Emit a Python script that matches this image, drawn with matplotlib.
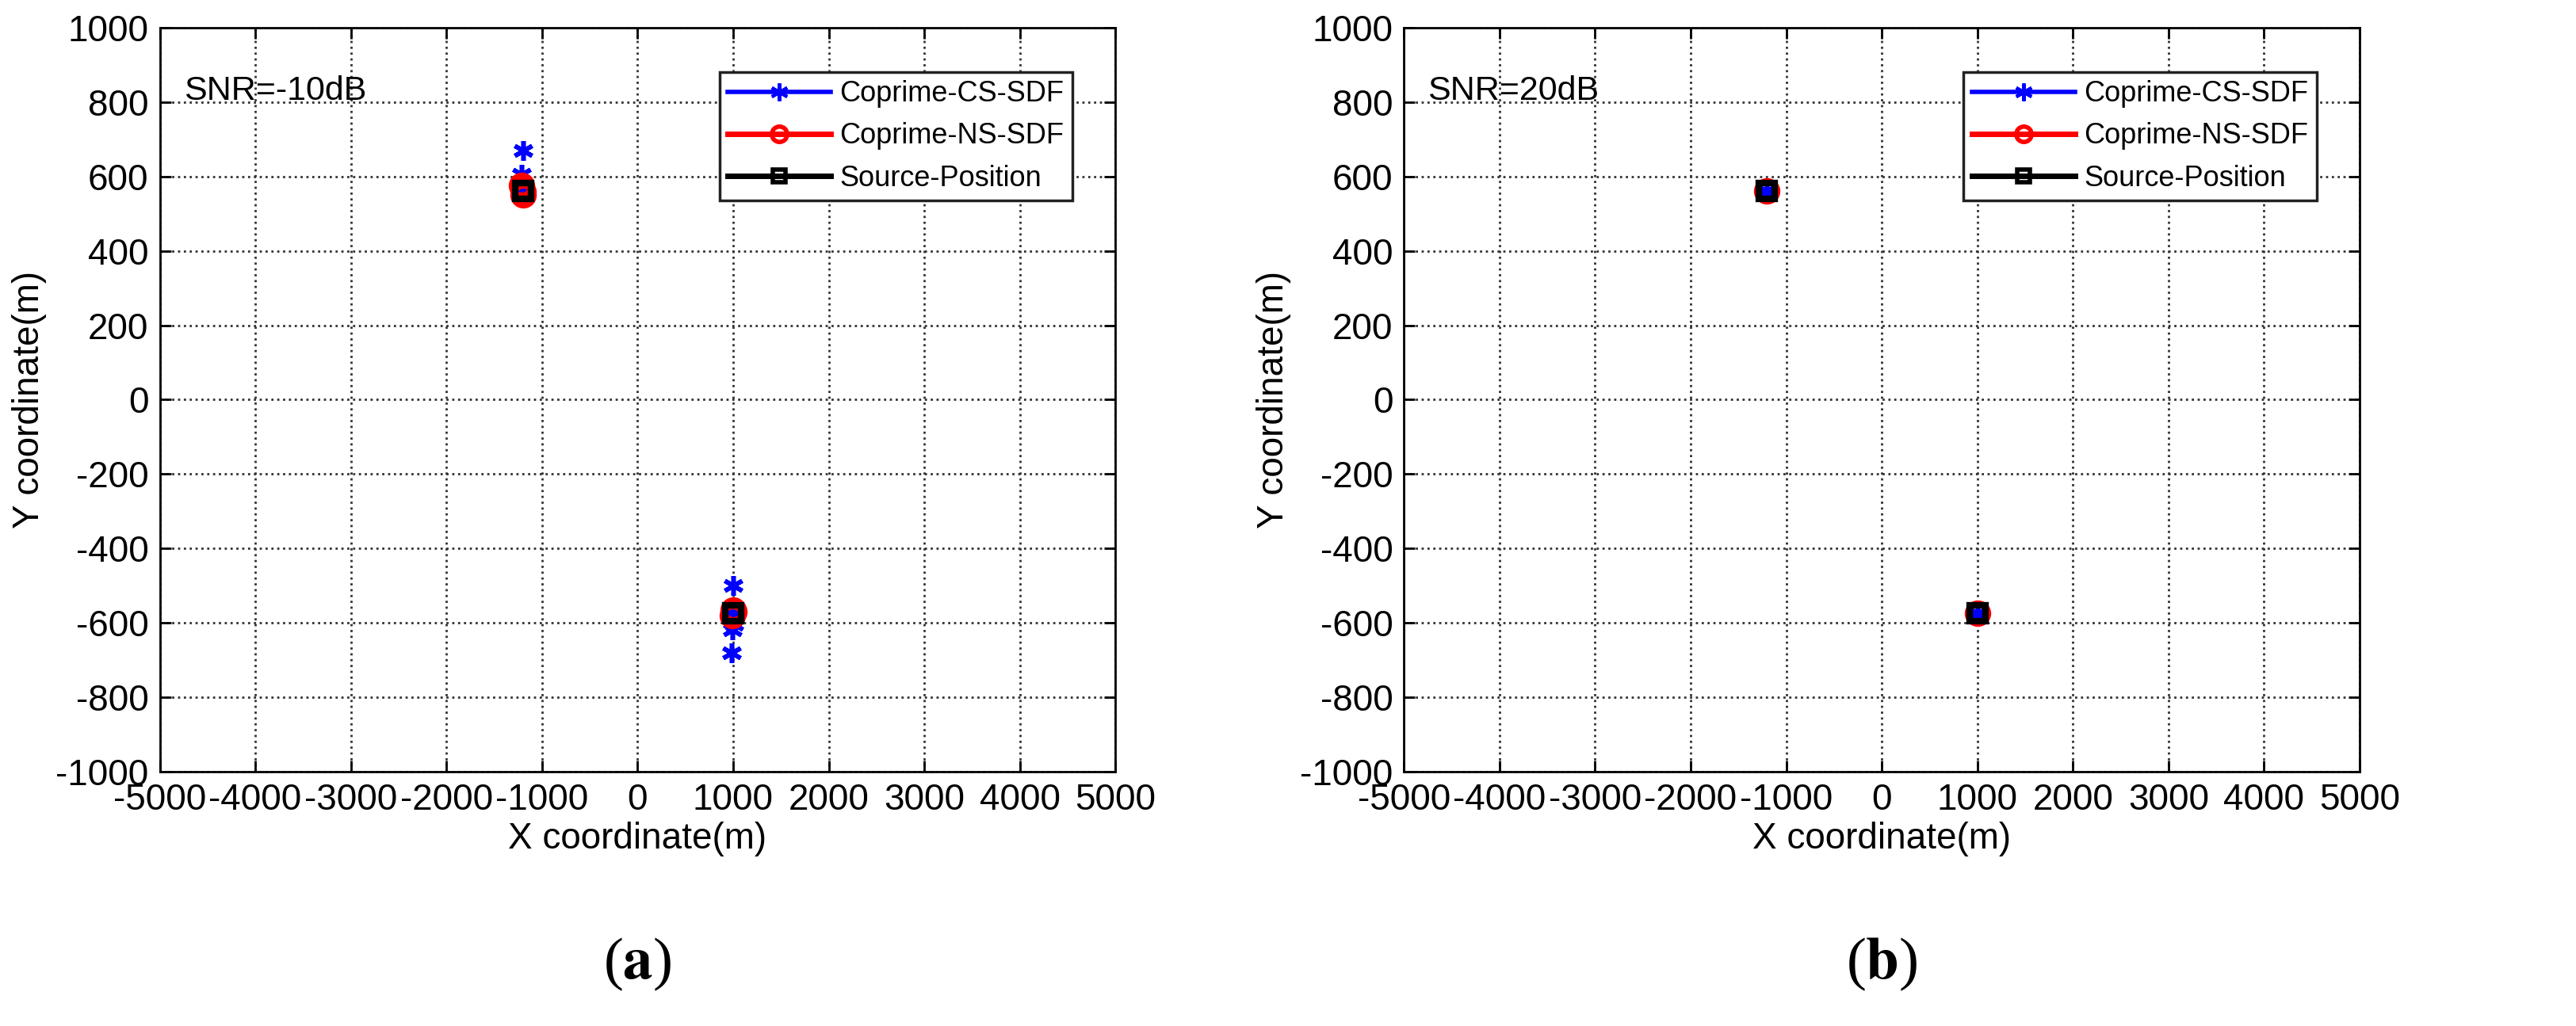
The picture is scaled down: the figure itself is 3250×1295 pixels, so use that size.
import matplotlib.pyplot as plt

plt.rcParams["font.family"] = ["Liberation Sans", "DejaVu Sans"]
plt.rcParams["axes.unicode_minus"] = False
plt.rcParams["mathtext.fontset"] = "stix"

# panel (a): SNR=-10dB
cs_x_a = [-1200, -1210, -1205, -1195, 1000, 990, 1005, 980, 1000, 995]
cs_y_a = [670, 605, 565, 555, -500, -620, -605, -680, -575, -590]
ns_x_a = [-1200, -1210, -1195, 1000, 990, 1005]
ns_y_a = [560, 575, 550, -565, -580, -570]
# panel (b): SNR=20dB
cs_x_b = [-1200, 1000]
cs_y_b = [562, -575]
ns_x_b = [-1200, 1000]
ns_y_b = [562, -575]

src_x = [-1200, 1000]
src_y = [562, -575]

panels = [
    ("SNR=-10dB", cs_x_a, cs_y_a, ns_x_a, ns_y_a, "a", 0.062),
    ("SNR=20dB", cs_x_b, cs_y_b, ns_x_b, ns_y_b, "b", 0.545),
]

ASTER = (6, 2, 0)

fig = plt.figure(figsize=(32.5, 12.95), dpi=100)
for snr, cx, cy, nx, ny, tag, left in panels:
    ax = fig.add_axes([left, 0.248, 0.371, 0.725])
    ax.plot(cx, cy, ls="none", marker=ASTER, color="blue", ms=18, mew=4, label="Coprime-CS-SDF")
    ax.plot(nx, ny, "o", color="red", mfc="none", ms=18, mew=6, label="Coprime-NS-SDF")
    ax.plot(src_x, src_y, "s", color="black", mfc="none", ms=15, mew=6, label="Source-Position")
    ax.set_xlim(-5000, 5000)
    ax.set_ylim(-1000, 1000)
    ax.set_xticks(range(-5000, 5001, 1000))
    ax.set_yticks(range(-1000, 1001, 200))
    ax.grid(True, linestyle=":", color="#333333", linewidth=2)
    ax.tick_params(labelsize=33, direction="in", length=10, width=2, top=True, right=True, pad=10)
    for s in ax.spines.values():
        s.set_linewidth(2)
    ax.set_xlabel("X coordinate(m)", fontsize=33, labelpad=4)
    ax.set_ylabel("Y coordinate(m)", fontsize=33, labelpad=8)
    ax.text(-4750, 830, snr, fontsize=31, ha="left", va="center")
    handles = [
        plt.Line2D([], [], color="blue", lw=4, marker=ASTER, ms=16, mew=3),
        plt.Line2D([], [], color="red", lw=5, marker="o", mfc="none", ms=14, mew=4),
        plt.Line2D([], [], color="black", lw=5, marker="s", mfc="none", ms=12, mew=4),
    ]
    leg = ax.legend(handles, ["Coprime-CS-SDF", "Coprime-NS-SDF", "Source-Position"],
                    loc="upper right", bbox_to_anchor=(0.97, 0.96), fontsize=26,
                    fancybox=False, framealpha=1, edgecolor="#222222",
                    handlelength=3.6, borderpad=0.3, labelspacing=0.5, handletextpad=0.3)
    leg.get_frame().set_linewidth(2.5)
    fig.text(left + 0.371 / 2, 0.06, "($\\mathbf{%s}$)" % tag, fontsize=54,
             ha="center", va="center", family=["Liberation Serif", "DejaVu Serif"])

fig.savefig("out.png", dpi=100)
